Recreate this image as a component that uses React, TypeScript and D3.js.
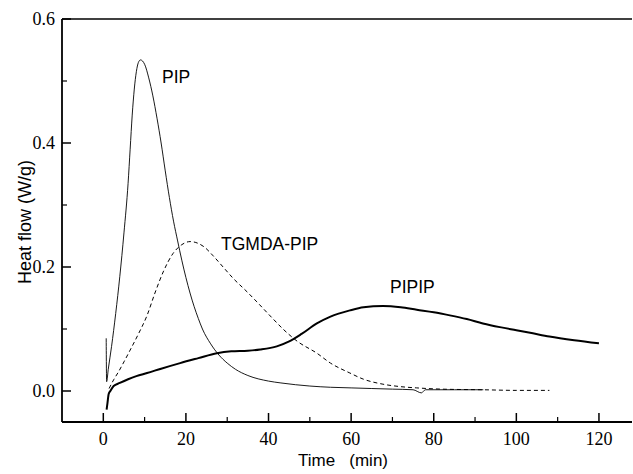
import React from "react";
import * as d3 from "d3";

const pipTime = [0.7, 0.8, 1.2, 2, 3, 4, 5, 6, 6.5, 7, 7.5, 8, 8.5, 9, 10, 11, 12, 13, 14, 15, 16, 17, 18, 19, 20, 21, 22, 23, 24, 26, 28, 30, 32, 35, 40, 43, 50, 55, 60, 65, 70, 75, 77, 78, 85, 92];
const pipFlow = [0.085, 0.015, 0.035, 0.072, 0.125, 0.185, 0.255, 0.335, 0.39, 0.445, 0.487, 0.515, 0.53, 0.534, 0.527, 0.505, 0.476, 0.44, 0.4, 0.355, 0.312, 0.274, 0.242, 0.211, 0.183, 0.158, 0.136, 0.117, 0.1, 0.076, 0.058, 0.045, 0.035, 0.025, 0.016, 0.013, 0.008, 0.006, 0.005, 0.004, 0.003, 0.002, -0.003, 0.002, 0.002, 0.002];

const tgmdaTime = [1.4, 2.5, 3.6, 5, 6.5, 8.5, 10.6, 12.5, 14.5, 16.9, 19, 21, 23, 24.5, 26.6, 29, 31.4, 34.8, 37, 41, 43.5, 47, 51.7, 55, 59.7, 63, 67.7, 72, 75.9, 82, 91.9, 100, 108];
const tgmdaFlow = [0.004, 0.018, 0.03, 0.047, 0.066, 0.092, 0.122, 0.158, 0.192, 0.222, 0.236, 0.241, 0.238, 0.232, 0.218, 0.2, 0.182, 0.16, 0.145, 0.117, 0.1, 0.08, 0.061, 0.045, 0.029, 0.019, 0.011, 0.007, 0.005, 0.003, 0.002, 0.001, 0.001];

const pipipTime = [0.8, 1.0, 1.3, 1.7, 2.5, 4, 6, 8, 10.6, 14, 18.6, 23, 27.5, 31, 35, 38, 42, 45, 48, 51.7, 55, 59.7, 63, 67.7, 72, 75.9, 80, 83.9, 88, 91.9, 96, 100, 104, 108, 114, 120];
const pipipFlow = [-0.03, -0.02, -0.005, 0.0, 0.008, 0.013, 0.019, 0.024, 0.029, 0.036, 0.045, 0.053, 0.061, 0.064, 0.065, 0.067, 0.072, 0.08, 0.092, 0.109, 0.12, 0.13, 0.135, 0.137, 0.135, 0.131, 0.127, 0.122, 0.116, 0.109, 0.103, 0.098, 0.093, 0.088, 0.082, 0.077];

const xMajorTicks = [0, 20, 40, 60, 80, 100, 120];
const xMinorTicks = [10, 30, 50, 70, 90, 110];
const yMajorTicks = [0.0, 0.2, 0.4, 0.6];
const yMinorTicks = [0.1, 0.3, 0.5];

const labels = [
  { text: "PIP", t: 14.2, v: 0.497 },
  { text: "TGMDA-PIP", t: 28.5, v: 0.227 },
  { text: "PIPIP", t: 69.4, v: 0.158 },
];

export default function App() {
  const W = 633, H = 474;
  const left = 62, right = 632, top = 19, bottom = 422;
  const x = d3.scaleLinear().domain([-10, 128]).range([left, right]);
  const y = d3.scaleLinear().domain([-0.05, 0.6]).range([bottom, top]);

  const mk = (ts: number[], vs: number[]) =>
    d3
      .line<number>()
      .x((_, i) => x(ts[i]))
      .y((d) => y(d))
      .curve(d3.curveMonotoneX)(vs) || "";

  const sans = "'Liberation Sans', Arial, sans-serif";
  const serif = "'Liberation Serif', 'Times New Roman', serif";

  return (
    <svg width={W} height={H} style={{ position: "absolute", left: 0, top: 0, background: "#fff" }}>
      <rect x={0} y={0} width={W} height={H} fill="#fff" />
      {/* frame */}
      <line x1={left} x2={right} y1={top} y2={top} stroke="#000" strokeWidth={1.6} />
      <line x1={left} x2={right} y1={bottom} y2={bottom} stroke="#000" strokeWidth={1.8} />
      <line x1={left} x2={left} y1={top} y2={bottom} stroke="#000" strokeWidth={1.8} />

      {/* x ticks */}
      {xMajorTicks.map((t) => (
        <g key={"xm" + t}>
          <line x1={x(t)} x2={x(t)} y1={bottom} y2={bottom - 9} stroke="#000" strokeWidth={1.5} />
          <text x={x(t)} y={445} textAnchor="middle" fontFamily={serif} fontSize={18}>
            {t}
          </text>
        </g>
      ))}
      {xMinorTicks.map((t) => (
        <line key={"xn" + t} x1={x(t)} x2={x(t)} y1={bottom} y2={bottom - 5} stroke="#000" strokeWidth={1.2} />
      ))}

      {/* y ticks */}
      {yMajorTicks.map((v) => (
        <g key={"ym" + v}>
          <line x1={left} x2={left + 9} y1={y(v)} y2={y(v)} stroke="#000" strokeWidth={1.5} />
          <text x={55} y={y(v) + 6} textAnchor="end" fontFamily={serif} fontSize={18}>
            {v.toFixed(1)}
          </text>
        </g>
      ))}
      {yMinorTicks.map((v) => (
        <line key={"yn" + v} x1={left} x2={left + 5} y1={y(v)} y2={y(v)} stroke="#000" strokeWidth={1.2} />
      ))}

      {/* curves */}
      <path d={mk(pipTime, pipFlow)} fill="none" stroke="#000" strokeWidth={0.9} />
      <path d={mk(tgmdaTime, tgmdaFlow)} fill="none" stroke="#000" strokeWidth={1} strokeDasharray="4,3" />
      <path d={mk(pipipTime, pipipFlow)} fill="none" stroke="#000" strokeWidth={2} />

      {/* labels */}
      {labels.map((l) => (
        <text key={l.text} x={x(l.t)} y={y(l.v)} fontFamily={sans} fontSize={17.5}>
          {l.text}
        </text>
      ))}

      {/* axis titles */}
      <text x={343} y={466} textAnchor="middle" fontFamily={sans} fontSize={17} style={{ whiteSpace: "pre" }}>
        {"Time   (min)"}
      </text>
      <text
        transform={`translate(31, 222) rotate(-90)`}
        textAnchor="middle"
        fontFamily={sans}
        fontSize={18}
      >
        Heat flow (W/g)
      </text>
    </svg>
  );
}
